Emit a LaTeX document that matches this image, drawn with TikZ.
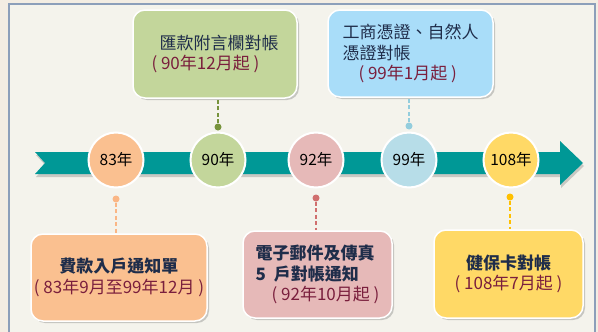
\documentclass[tikz,border=0pt]{standalone}
\usepackage{fontspec}
\setmainfont{Noto Sans CJK TC}
\usetikzlibrary{shapes,shadows,positioning,calc}
\definecolor{pagebeige}{HTML}{F3EDE3}
\definecolor{panelbg}{HTML}{F4F3EC}
\definecolor{panelframe}{HTML}{8C9FBA}
\definecolor{bandteal}{HTML}{009896}
\definecolor{orangec}{HTML}{FAC090}
\definecolor{greenc}{HTML}{C3D69B}
\definecolor{pinkc}{HTML}{E6B9B8}
\definecolor{bluec}{HTML}{B7DDE8}
\definecolor{skyc}{HTML}{A9DDF9}
\definecolor{yellowc}{HTML}{FFD966}
\definecolor{greendot}{HTML}{77933C}
\definecolor{bluedot}{HTML}{93CDDD}
\definecolor{orangedot}{HTML}{FAB685}
\definecolor{pinkdot}{HTML}{D06F6E}
\definecolor{yellowdot}{HTML}{FFC000}
\definecolor{titletext}{HTML}{1F2D4A}
\definecolor{datetext}{HTML}{7A1F3D}
\tikzset{
    yearcircle/.style={
        circle,                   % círculo del año sobre la banda
        fill=#1,                  % relleno con el color del hito
        draw=white,               % borde blanco
        line width=2pt,
        minimum size=55pt,
        inner sep=0pt,
        font=\fontsize{15.5}{18}\selectfont
    },
    eventbox/.style={
        rectangle,
        rounded corners=12pt,     % esquinas bien redondeadas
        fill=#1,
        draw=white,               % borde blanco fino
        line width=1.5pt,
        align=left,
        inner sep=0pt,
        text=titletext,
        font=\fontsize{17}{20.5}\selectfont,
        drop shadow={shadow xshift=2pt,shadow yshift=-2pt,opacity=.35,fill=black!55}
    },
    linkdot/.style={
        circle,
        fill=#1,
        inner sep=0pt,
        minimum size=7pt
    },
    linkline/.style={
        draw=#1,
        line width=2.5pt,
        dash pattern=on 4pt off 2.5pt
    }
}
\newcommand{\fecha}[1]{\textcolor{datetext}{#1}}

\begin{document}
\begin{tikzpicture}[x=1pt,y=-1pt]
    \useasboundingbox (0,0) rectangle (598,332);
    \fill[pagebeige] (0,0) rectangle (598,332);
    \fill[panelbg] (9,4) rectangle (595,340);
    \draw[panelframe,line width=2pt] (9,340) -- (9,4) -- (595,4) -- (595,340);
    \fill[bandteal,drop shadow={shadow xshift=1pt,shadow yshift=-3pt,opacity=.3,fill=black!60}]
        (35,152) -- (560,152) -- (560,141) -- (583,163) -- (560,185) -- (560,174) -- (35,174) -- (45,163) -- cycle;

    \node[yearcircle=orangec] (y83) at (116,160) {83年};
    \node[yearcircle=greenc] (y90) at (218,160) {90年};
    \node[yearcircle=pinkc] (y92) at (316,160) {92年};
    \node[yearcircle=bluec] (y99) at (409,160) {99年};
    \node[yearcircle=yellowc] (y108) at (511,160) {108年};

    \node[eventbox=greenc, minimum width=164pt, minimum height=88pt] (b90) at (215,54)
        {\hspace*{8pt}匯款附言欄對帳\\\fecha{( 90年12月起 )}};
    \node[eventbox=skyc, minimum width=165pt, minimum height=87pt] (b99) at (410.5,53.5)
        {工商憑證、自然人\\憑證對帳\\\hspace*{16pt}\fecha{( 99年1月起 )}};
    \node[eventbox=orangec, minimum width=176pt, minimum height=87pt, align=center] (b83) at (119,277.5)
        {\textbf{費款入戶通知單}\\\fecha{( 83年9月至99年12月 )}};
    \node[eventbox=pinkc, minimum width=149pt, minimum height=87pt] (b92) at (317.5,274.5)
        {\textbf{電子郵件及傳真}\\\textbf{5\hspace{8pt}戶對帳通知}\\\hspace*{16pt}\fecha{( 92年10月起 )}};
    \node[eventbox=yellowc, minimum width=149pt, minimum height=88pt, align=center] (b108) at (508.5,274)
        {\textbf{健保卡對帳}\\\fecha{( 108年7月起 )}};

    \node[linkdot=greendot] (d90) at (218,127) {};
    \node[linkdot=bluedot] (d99) at (409,126) {};
    \node[linkdot=orangedot] (d83) at (116,199) {};
    \node[linkdot=pinkdot] (d92) at (316,198) {};
    \node[linkdot=yellowdot] (d108) at (510,197) {};

    \draw[linkline=greendot] (d90) -- (d90 |- b90.south);
    \draw[linkline=bluedot] (d99) -- (d99 |- b99.south);
    \draw[linkline=orangedot] (d83) -- (d83 |- b83.north);
    \draw[linkline=pinkdot] (d92) -- (d92 |- b92.north);
    \draw[linkline=yellowdot] (d108) -- (d108 |- b108.north);
\end{tikzpicture}
\end{document}
